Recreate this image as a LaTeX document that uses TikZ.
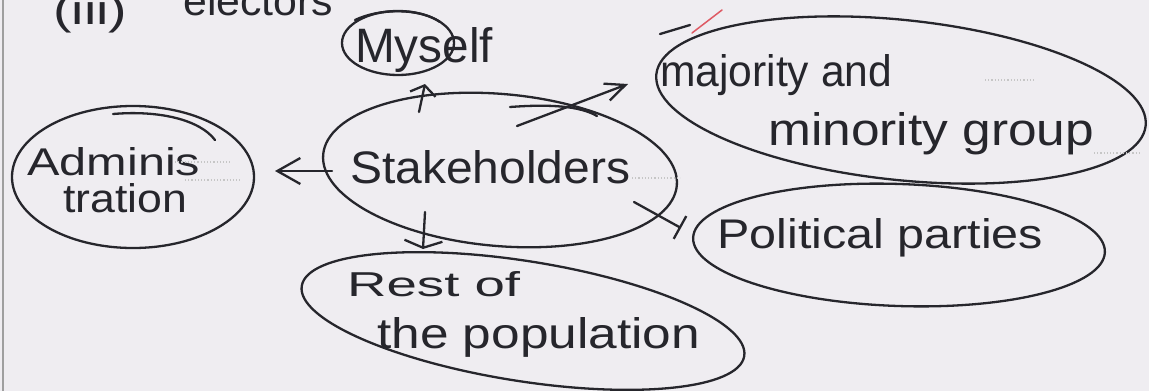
\documentclass[tikz,border=0pt]{standalone}
\usepackage{fontspec}
\setmainfont{Liberation Sans}
\usetikzlibrary{shapes.geometric,arrows.meta}
\definecolor{paper}{RGB}{239,237,241}
\definecolor{ink}{RGB}{38,38,44}
\definecolor{redmark}{RGB}{222,90,100}
\newcommand\hwtext[3]{\resizebox{#1pt}{#2pt}{\fontsize{48}{50}\selectfont #3}}
\tikzset{
  inkline/.style={draw=ink, line width=2.3pt, line cap=round},
  blob/.style={ellipse, draw=ink, line width=2.3pt, inner sep=0pt},
  hand/.style={text=ink, inner sep=0pt, anchor=base west},
  faint/.style={draw=gray!45, line width=1.2pt, dotted}
}
\begin{document}
\begin{tikzpicture}[x=1pt,y=-1pt]
\useasboundingbox (0,0) rectangle (1149,391);
\fill[paper] (0,0) rectangle (1149,391);
\draw[gray!75, line width=1.5pt] (3,0) -- (3,391);

% ellipses
\node[blob, minimum width=112pt, minimum height=64pt] (myself) at (398,43) {};
\node[blob, minimum width=355pt, minimum height=152pt, rotate=-5] (stake) at (500,170) {};
\node[blob, minimum width=242pt, minimum height=142pt] (admin) at (133,177) {};
\node[blob, minimum width=492pt, minimum height=160pt, rotate=-6] (maj) at (901,100) {};
\node[blob, minimum width=412pt, minimum height=122pt, rotate=-2] (pol) at (899,245) {};
\node[blob, minimum width=448pt, minimum height=120pt, rotate=-9] (rest) at (523,321) {};

% overlapping pen strokes
\draw[inkline] (355,20) .. controls (380,8) and (420,8) .. (440,22);
\draw[inkline] (113,114) .. controls (160,110) and (200,120) .. (215,140);
\draw[inkline] (510,107) .. controls (550,104) and (580,106) .. (597,116);
\draw[inkline] (660,34) -- (690,25);
\draw[redmark, line width=1.5pt, line cap=round] (692,33) -- (722,10);

% texts
\node[hand] (t0) at (53,24) {\hwtext{74}{30}{(iii)}};
\node[hand] (t1) at (183,15) {\hwtext{150}{30}{electors}};
\node[hand] (tm) at (355,62) {\hwtext{138}{35}{Myself}};
\node[hand] (ts) at (350,183) {\hwtext{280}{33}{Stakeholders}};
\node[hand] (ta1) at (27,175) {\hwtext{173}{28}{Adminis}};
\node[hand] (ta2) at (63,212) {\hwtext{124}{29}{tration}};
\node[hand] (tj1) at (660,86) {\hwtext{232}{32}{majority and}};
\node[hand] (tj2) at (768,145) {\hwtext{326}{33}{minority group}};
\node[hand] (tp) at (717,248) {\hwtext{326}{30}{Political parties}};
\node[hand] (tr1) at (347,296) {\hwtext{173}{25}{Rest of}};
\node[hand] (tr2) at (377,348) {\hwtext{323}{31}{the population}};

% faint dots
\draw[faint] (632,178) -- (680,178);
\draw[faint] (175,162) -- (230,162);
\draw[faint] (185,180) -- (240,180);
\draw[faint] (985,80) -- (1035,80);
\draw[faint] (1094,153) -- (1140,153);

% connectors
\coordinate (uS) at (419,112); \coordinate (uE) at (425,84);
\coordinate (lS) at (332,171); \coordinate (lE) at (275,171);
\coordinate (mS) at (517,126); \coordinate (mE) at (628,84);
\coordinate (dS) at (425,212); \coordinate (dE) at (423,249);
\coordinate (pS) at (634,202); \coordinate (pE) at (681,228);
\draw[inkline, -{Straight Barb[length=9pt,width=26pt]}] (uS) -- (uE);
\draw[inkline, -{Straight Barb[length=23pt,width=26pt]}] (lS) -- (lE);
\draw[inkline, -{Straight Barb[length=20pt,width=18pt]}] (mS) -- (mE);
\draw[inkline, -{Straight Barb[length=7pt,width=38pt]}] (dS) -- (dE);
\draw[inkline, -{Bar[width=26pt]}] (pS) -- (pE);
\end{tikzpicture}
\end{document}
